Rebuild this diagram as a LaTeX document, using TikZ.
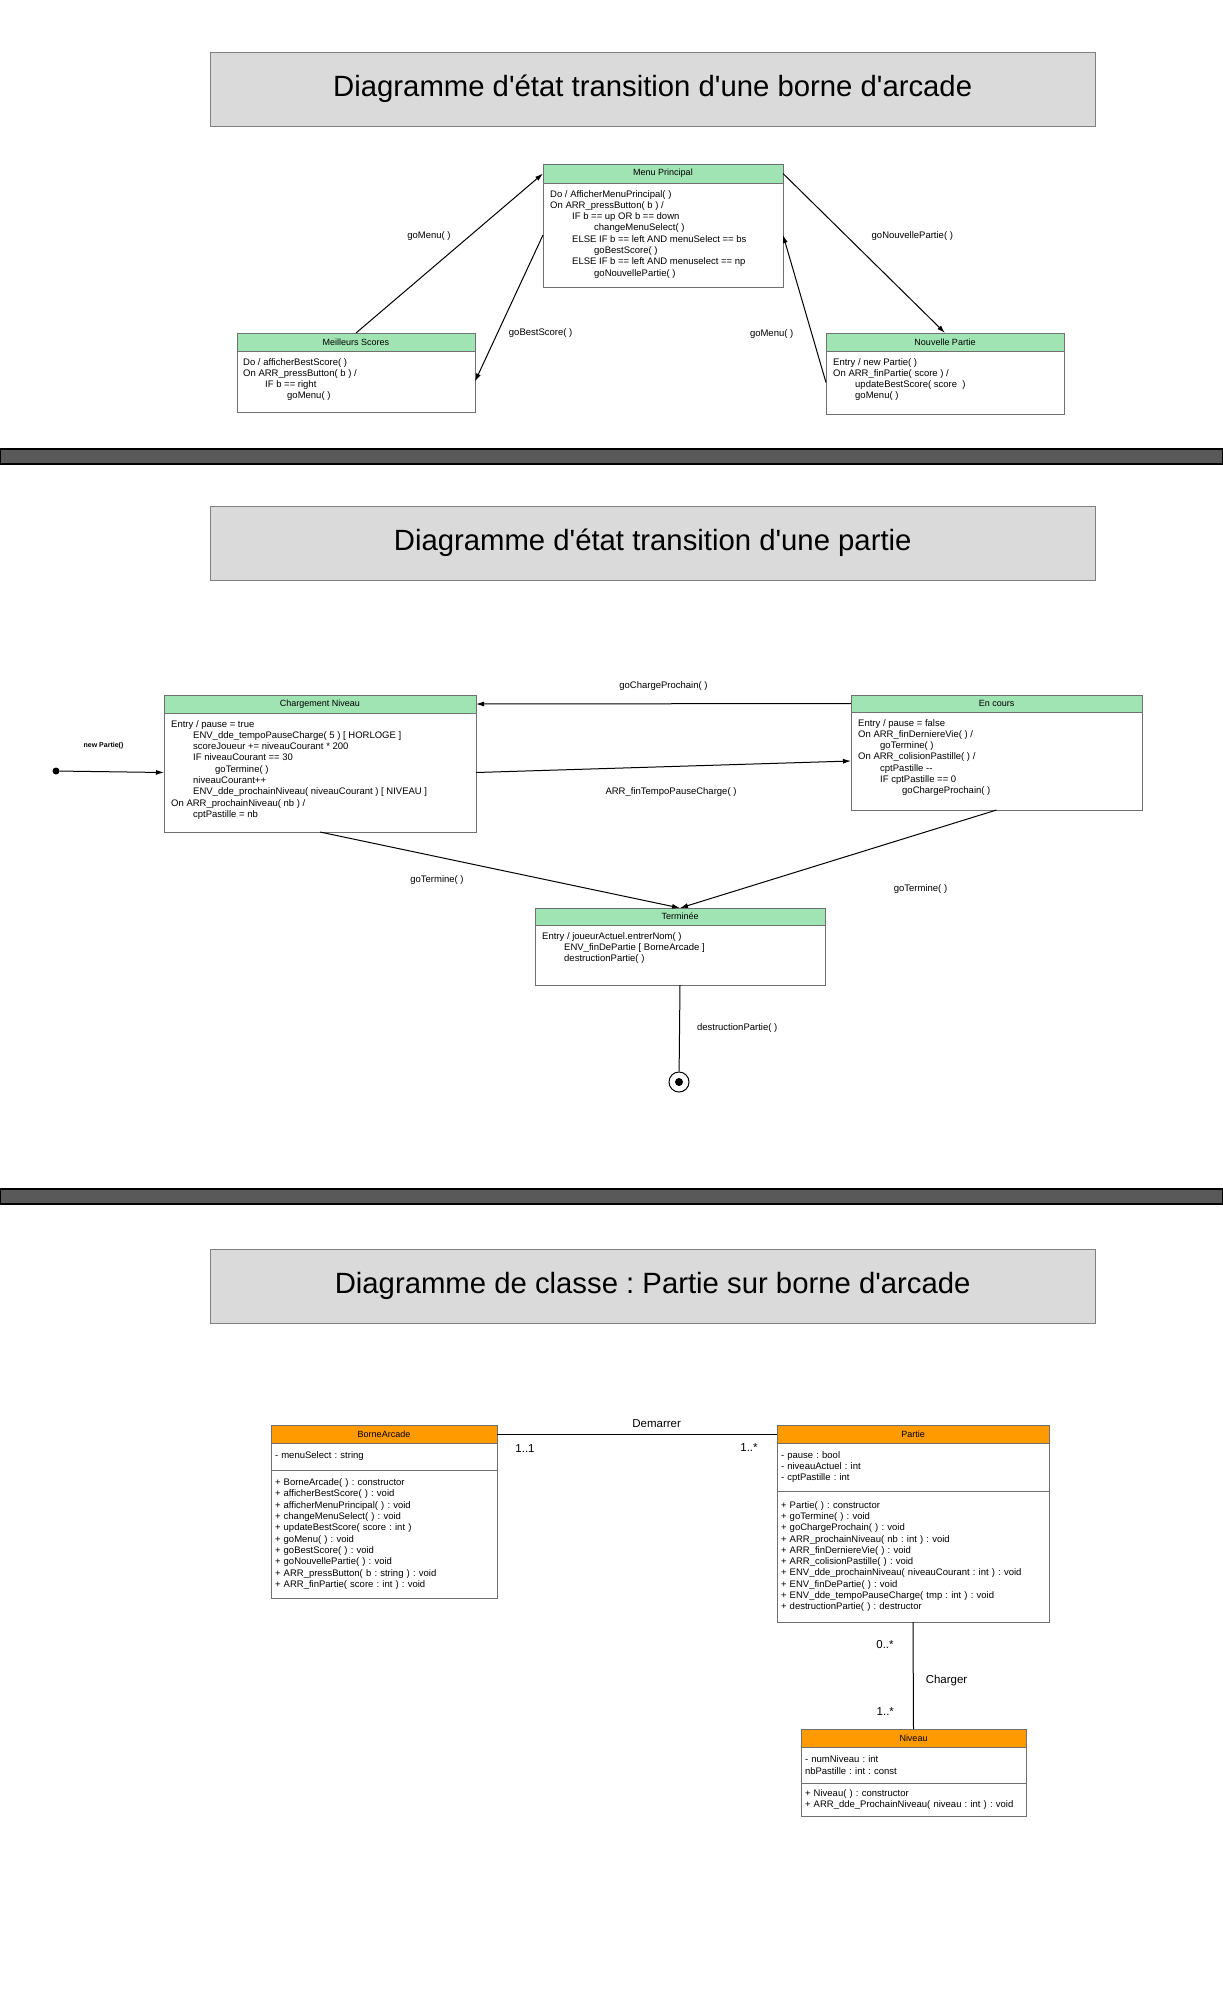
\documentclass[tikz,border=0pt]{standalone}
\usepackage{fontspec}
\setmainfont{Liberation Sans}[Ligatures=TeXOff]
\usetikzlibrary{positioning,arrows.meta}
\definecolor{stategreen}{HTML}{A0E4B4}
\definecolor{classorange}{HTML}{FF9A00}
\definecolor{titlegray}{HTML}{DADADA}
\definecolor{boxline}{HTML}{707070}
\definecolor{sepgray}{HTML}{595959}
\newcommand{\tabin}{\hspace*{22pt}}
\frenchspacing
\tikzset{
  titlebox/.style={draw=gray,fill=titlegray,anchor=north west,inner sep=0,minimum width=885pt,minimum height=74pt,font=\fontsize{29.3}{32}\selectfont},
  hdr/.style={draw=boxline,fill=stategreen,anchor=north west,inner sep=0,outer sep=0,font=\fontsize{9}{10}\selectfont},
  chdr/.style={hdr,fill=classorange},
  sbody/.style={draw=boxline,fill=white,inner sep=0,outer sep=0},
  txt/.style={anchor=north west,align=left,inner xsep=7pt,inner ysep=7pt,font=\fontsize{9.5}{11.3}\selectfont},
  cpart/.style={draw=boxline,fill=white,inner xsep=4pt,inner ysep=0,outer sep=0,align=left,font=\fontsize{9.5}{11.3}\selectfont},
  lbl/.style={inner sep=1pt,font=\fontsize{9.5}{10}\selectfont},
  mult/.style={inner sep=1pt,font=\fontsize{11.5}{13}\selectfont},
  tr/.style={line width=1pt},
  sepbar/.style={draw=black,fill=sepgray,line width=1.5pt}
}
\begin{document}
\begin{tikzpicture}[x=1pt,y=-1pt,>={Latex[length=8pt,width=5pt]}]
\useasboundingbox[fill=white] (0,0) rectangle (1223,2000);

% borne d'arcade
\node[titlebox] (title1) at (210,52) {Diagramme d'état transition d'une borne d'arcade};

\node[hdr,minimum width=240pt,minimum height=19pt] (menu) at (543,164) {Menu Principal};
\node[sbody,minimum width=240pt,minimum height=104pt,below=0pt of menu] (menubody) {};
\node[txt] (menutext) at (menubody.north west) {Do / AfficherMenuPrincipal( )\\
On ARR\_pressButton( b ) /\\
\tabin IF b == up OR b == down\\
\tabin\tabin changeMenuSelect( )\\
\tabin ELSE IF b == left AND menuSelect == bs\\
\tabin\tabin goBestScore( )\\
\tabin ELSE IF b == left AND menuselect == np\\
\tabin\tabin goNouvellePartie( )};

\node[hdr,minimum width=238pt,minimum height=18pt] (best) at (237,333) {Meilleurs Scores};
\node[sbody,minimum width=238pt,minimum height=61pt,below=0pt of best] (bestbody) {};
\node[txt,inner xsep=6pt] (besttext) at (bestbody.north west) {Do / afficherBestScore( )\\
On ARR\_pressButton( b ) /\\
\tabin IF b == right\\
\tabin\tabin goMenu( )};

\node[hdr,minimum width=238pt,minimum height=18pt] (newgame) at (826,333) {Nouvelle Partie};
\node[sbody,minimum width=238pt,minimum height=63pt,below=0pt of newgame] (newgamebody) {};
\node[txt] (newgametext) at (newgamebody.north west) {Entry / new Partie( )\\
On ARR\_finPartie( score ) /\\
\tabin updateBestScore( score~ )\\
\tabin goMenu( )};

\draw[tr,->] (best.north) -- node[lbl,pos=0.61,left=18pt] (l1) {goMenu( )} (menu.west);
\draw[tr,->] (menubody.west) -- node[lbl,pos=0.67,right=10pt] (l2) {goBestScore( )} (bestbody.east);
\draw[tr,->] (menu.east) -- node[lbl,pos=0.39,right=24pt] (l3) {goNouvellePartie( )} (newgame.north);
\draw[tr,->] (newgamebody.west) -- node[lbl,pos=0.33,left=17pt] (l4) {goMenu( )} (menubody.east);

\draw[sepbar] (0,449) rectangle (1223,464);

% partie
\node[titlebox] (title2) at (210,506) {Diagramme d'état transition d'une partie};

\node[hdr,minimum width=312pt,minimum height=18pt] (load) at (164,695) {Chargement Niveau};
\node[sbody,minimum width=312pt,minimum height=119pt,below=0pt of load] (loadbody) {};
\node[txt] (loadtext) at (loadbody.north west) {Entry / pause = true\\
\tabin ENV\_dde\_tempoPauseCharge( 5 ) [ HORLOGE ]\\
\tabin scoreJoueur += niveauCourant * 200\\
\tabin IF niveauCourant == 30\\
\tabin\tabin goTermine( )\\
\tabin niveauCourant++\\
\tabin ENV\_dde\_prochainNiveau( niveauCourant ) [ NIVEAU ]\\
On ARR\_prochainNiveau( nb ) /\\
\tabin cptPastille = nb};

\node[hdr,minimum width=291pt,minimum height=17pt] (run) at (851,695) {En cours};
\node[sbody,minimum width=291pt,minimum height=98pt,below=0pt of run] (runbody) {};
\node[txt] (runtext) at (runbody.north west) {Entry / pause = false\\
On ARR\_finDerniereVie( ) /\\
\tabin goTermine( )\\
On ARR\_colisionPastille( ) /\\
\tabin cptPastille --\\
\tabin IF cptPastille == 0\\
\tabin\tabin goChargeProchain( )};

\node[hdr,minimum width=290pt,minimum height=17pt] (over) at (535,908) {Terminée};
\node[sbody,minimum width=290pt,minimum height=60pt,below=0pt of over] (overbody) {};
\node[txt] (overtext) at (overbody.north west) {Entry / joueurActuel.entrerNom( )\\
\tabin ENV\_finDePartie [ BorneArcade ]\\
\tabin destructionPartie( )};

\node[circle,fill,minimum size=7pt,inner sep=0] (start) at (56,771) {};
\node[circle,draw,line width=1pt,minimum size=20pt,inner sep=0] (fin) at (679,1082) {};
\fill (fin.center) circle (4pt);

\draw[tr,->] (start) -- node[lbl,pos=0.42,above=21pt,font=\fontsize{7}{8}\bfseries] (l5) {new Partie()} (loadbody.west);
\draw[tr,->] (run.west) -- node[lbl,midway,above=12pt] (l6) {goChargeProchain( )} (load.east);
\draw[tr,->] (loadbody.east) -- node[lbl,pos=0.52,below=20pt] (l7) {ARR\_finTempoPauseCharge( )} (runbody.west);
\draw[tr,->] (loadbody.south) -- node[lbl,pos=0.325,below=17pt] (l8) {goTermine( )} (over.north);
\draw[tr,->] (runbody.south) -- node[lbl,pos=0.24,below=50pt] (l9) {goTermine( )} (over.north);
\draw[tr] (overbody.south) -- node[lbl,midway,right=16pt] (l10) {destructionPartie( )} (fin);

\draw[sepbar] (0,1189) rectangle (1223,1204);

% classes
\node[titlebox] (title3) at (210,1249) {Diagramme de classe : Partie sur borne d'arcade};

\node[chdr,minimum width=226pt,minimum height=18pt] (arcade) at (271,1425) {BorneArcade};
\node[cpart,text width=218pt,minimum height=27pt,below=0pt of arcade] (arcadeattr) {- menuSelect : string};
\node[cpart,text width=218pt,minimum height=128pt,below=0pt of arcadeattr] (arcadeops) {+ BorneArcade( ) : constructor\\
+ afficherBestScore( ) : void\\
+ afficherMenuPrincipal( ) : void\\
+ changeMenuSelect( ) : void\\
+ updateBestScore( score : int )\\
+ goMenu( ) : void\\
+ goBestScore( ) : void\\
+ goNouvellePartie( ) : void\\
+ ARR\_pressButton( b : string ) : void\\
+ ARR\_finPartie( score : int ) : void};

\node[chdr,minimum width=272pt,minimum height=18pt] (game) at (777,1425) {Partie};
\node[cpart,text width=264pt,minimum height=48pt,below=0pt of game] (gameattr) {- pause : bool\\
- niveauActuel : int\\
- cptPastille : int};
\node[cpart,text width=264pt,minimum height=131pt,below=0pt of gameattr] (gameops) {+ Partie( ) : constructor\\
+ goTermine( ) : void\\
+ goChargeProchain( ) : void\\
+ ARR\_prochainNiveau( nb : int ) : void\\
+ ARR\_finDerniereVie( ) : void\\
+ ARR\_colisionPastille( ) : void\\
+ ENV\_dde\_prochainNiveau( niveauCourant : int ) : void\\
+ ENV\_finDePartie( ) : void\\
+ ENV\_dde\_tempoPauseCharge( tmp : int ) : void\\
+ destructionPartie( ) : destructor\\[8pt]};

\node[chdr,minimum width=225pt,minimum height=18pt] (level) at (801,1729) {Niveau};
\node[cpart,text width=217pt,minimum height=36pt,below=0pt of level] (levelattr) {- numNiveau : int\\
nbPastille : int : const};
\node[cpart,text width=217pt,minimum height=33pt,below=0pt of levelattr] (levelops) {+ Niveau( ) : constructor\\
+ ARR\_dde\_ProchainNiveau( niveau : int ) : void};

\draw[tr] (arcade.east) -- node[mult,pos=0.57,above=5pt] (a1) {Demarrer}
  node[mult,pos=0.1,below=9pt] (a2) {1..1}
  node[mult,pos=0.9,below=8pt] (a3) {1..*} (game.west);
\draw[tr] (gameops.south) -- node[mult,pos=0.55,right=11pt] (a4) {Charger}
  node[mult,pos=0.215,left=18pt] (a5) {0..*}
  node[mult,pos=0.84,left=18pt] (a6) {1..*} (level.north);
\end{tikzpicture}
\end{document}
